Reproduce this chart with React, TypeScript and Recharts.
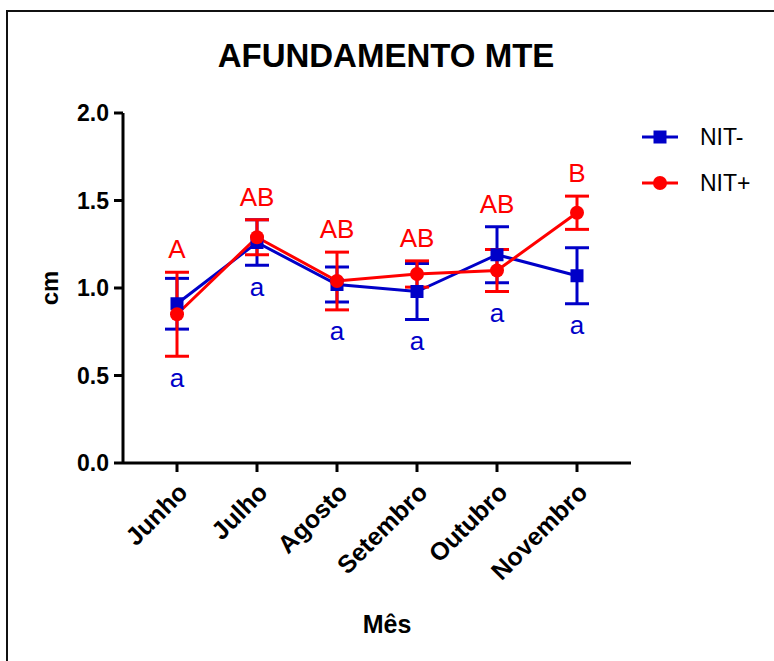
import React from 'react';
import {
  LineChart,
  Line,
  XAxis,
  YAxis,
  ErrorBar,
  LabelList,
} from 'recharts';

const months = ['Junho', 'Julho', 'Agosto', 'Setembro', 'Outubro', 'Novembro'];

// NIT- (blue squares)
const nitMinus = [0.91, 1.26, 1.02, 0.98, 1.19, 1.07];
const nitMinusErr = [0.145, 0.13, 0.1, 0.16, 0.16, 0.16];
const nitMinusLetters = ['a', 'a', 'a', 'a', 'a', 'a'];

// NIT+ (red circles)
const nitPlus = [0.85, 1.29, 1.04, 1.08, 1.1, 1.43];
const nitPlusErr = [0.24, 0.1, 0.165, 0.075, 0.12, 0.095];
const nitPlusLetters = ['A', 'AB', 'AB', 'AB', 'AB', 'B'];

const yTicks = [0, 0.5, 1.0, 1.5, 2.0];

const BLUE = '#0000C8';
const RED = '#FF0000';
const FONT = 'Liberation Sans, Arial, Helvetica, sans-serif';

const data = months.map((m, i) => ({
  month: m,
  neg: nitMinus[i],
  negErr: nitMinusErr[i],
  negLetter: nitMinusLetters[i],
  pos: nitPlus[i],
  posErr: nitPlusErr[i],
  posLetter: nitPlusLetters[i],
}));

// highest / lowest whisker at each month, used to anchor the letters
const topOfBars = (d: any) => Math.max(d.neg + d.negErr, d.pos + d.posErr);
const bottomOfBars = (d: any) => Math.min(d.neg - d.negErr, d.pos - d.posErr);

const SquareDot = (props: any) => {
  const { cx, cy } = props;
  if (cx == null || cy == null) return null;
  return <rect x={cx - 6.5} y={cy - 6.5} width={13} height={13} fill={BLUE} />;
};

const CircleDot = (props: any) => {
  const { cx, cy } = props;
  if (cx == null || cy == null) return null;
  return <circle cx={cx} cy={cy} r={7} fill={RED} />;
};

const MonthTick = (props: any) => {
  const { x, y, payload } = props;
  const ax = x + 12;
  const ay = y + 20;
  return (
    <text
      x={ax}
      y={ay}
      transform={`rotate(-45, ${ax}, ${ay})`}
      textAnchor="end"
      fontFamily={FONT}
      fontWeight="bold"
      fontSize={25}
      fill="#000"
    >
      {payload.value}
    </text>
  );
};

const LegendBox = () => (
  <svg width={134} height={80}>
    <line x1={2} y1={13} x2={38} y2={13} stroke={BLUE} strokeWidth={3} />
    <rect x={13.5} y={6.5} width={13} height={13} fill={BLUE} />
    <text x={60} y={21} fontFamily={FONT} fontSize={23} fill="#000">
      NIT-
    </text>
    <line x1={2} y1={59} x2={38} y2={59} stroke={RED} strokeWidth={3} />
    <circle cx={20} cy={59} r={7} fill={RED} />
    <text x={60} y={67} fontFamily={FONT} fontSize={23} fill="#000">
      NIT+
    </text>
  </svg>
);

export default function App() {
  return (
    <div
      style={{
        position: 'fixed',
        left: 0,
        top: 0,
        width: 774,
        height: 661,
        overflow: 'hidden',
        background: '#fff',
      }}
    >
      <div
        style={{
          position: 'absolute',
          left: 6,
          top: 10,
          width: 820,
          height: 720,
          border: '2px solid #111',
        }}
      />
      <div
        style={{
          position: 'absolute',
          left: 0,
          top: 38,
          width: 774,
          textAlign: 'center',
          fontFamily: FONT,
          fontWeight: 'bold',
          fontSize: 33,
          lineHeight: '36px',
        }}
      >
        <span style={{ position: 'relative', left: -1 }}>AFUNDAMENTO MTE</span>
      </div>
      <div style={{ position: 'absolute', left: 640, top: 124 }}>
        <LegendBox />
      </div>
      <div style={{ position: 'absolute', left: 0, top: 0 }}>
        <LineChart
          width={774}
          height={661}
          data={data}
          margin={{ top: 113, right: 143, bottom: 48, left: 23 }}
        >
          <XAxis
            dataKey="month"
            type="category"
            padding={{ left: 54, right: 54 }}
            axisLine={{ stroke: '#000', strokeWidth: 3 }}
            tickLine={{ stroke: '#000', strokeWidth: 3 }}
            tickSize={9}
            tick={<MonthTick />}
            interval={0}
            height={150}
            label={{
              value: 'Mês',
              position: 'insideBottom',
              offset: -20,
              dx: 10,
              style: { fontFamily: FONT, fontWeight: 'bold', fontSize: 25, fill: '#000' },
            }}
          />
          <YAxis
            type="number"
            domain={[0, 2]}
            ticks={yTicks}
            tickFormatter={(v: number) => v.toFixed(1)}
            axisLine={{ stroke: '#000', strokeWidth: 3 }}
            tickLine={{ stroke: '#000', strokeWidth: 3 }}
            tickSize={9}
            tickMargin={5}
            tick={{ fontFamily: FONT, fontWeight: 'bold', fontSize: 23, fill: '#000' }}
            width={100}
            label={{
              value: 'cm',
              angle: -90,
              position: 'insideLeft',
              offset: 26,
              style: {
                fontFamily: FONT,
                fontWeight: 'bold',
                fontSize: 24,
                fill: '#000',
                textAnchor: 'middle',
              },
            }}
          />
          <Line
            dataKey="neg"
            stroke={BLUE}
            strokeWidth={3}
            dot={<SquareDot />}
            activeDot={false}
            isAnimationActive={false}
          >
            <ErrorBar dataKey="negErr" direction="y" width={12} strokeWidth={3} stroke={BLUE} />
          </Line>
          <Line
            dataKey="pos"
            stroke={RED}
            strokeWidth={3}
            dot={<CircleDot />}
            activeDot={false}
            isAnimationActive={false}
          >
            <ErrorBar dataKey="posErr" direction="y" width={12} strokeWidth={3} stroke={RED} />
          </Line>
          {/* invisible carriers for the significance letters */}
          <Line
            dataKey={topOfBars}
            stroke="none"
            dot={false}
            activeDot={false}
            legendType="none"
            isAnimationActive={false}
          >
            <LabelList
              dataKey="posLetter"
              position="top"
              offset={14}
              style={{ fontFamily: FONT, fontSize: 26, fill: RED }}
            />
          </Line>
          <Line
            dataKey={bottomOfBars}
            stroke="none"
            dot={false}
            activeDot={false}
            legendType="none"
            isAnimationActive={false}
          >
            <LabelList
              dataKey="negLetter"
              position="bottom"
              offset={12}
              style={{ fontFamily: FONT, fontSize: 26, fill: BLUE }}
            />
          </Line>
        </LineChart>
      </div>
    </div>
  );
}
